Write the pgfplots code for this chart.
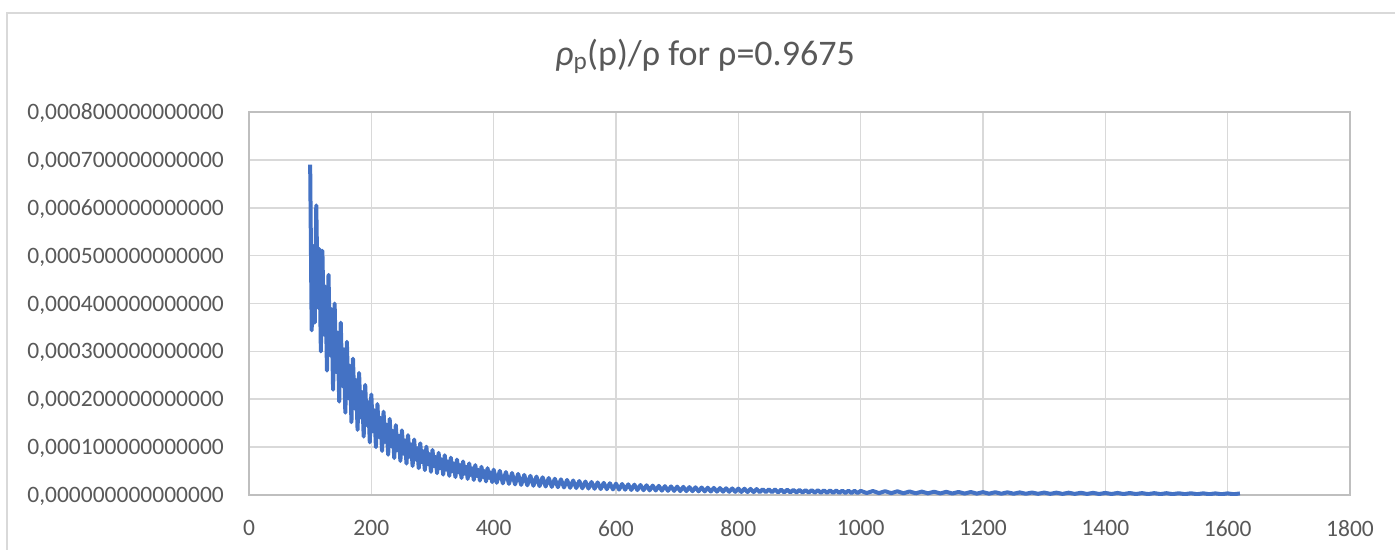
\documentclass[border=0pt]{standalone}
\usepackage{fontspec}
\setmainfont{Carlito}
\usepackage{pgfplots}
\pgfplotsset{compat=1.18}
\definecolor{lineblue}{HTML}{4472C4}
\definecolor{gridgray}{HTML}{D9D9D9}
\definecolor{axisgray}{HTML}{BFBFBF}
\definecolor{textgray}{HTML}{595959}
\begin{document}
\begin{tikzpicture}
% page = 1395 x 549 px, 1px = 1pt, origin at the plot area's lower left
\useasboundingbox (-249pt,-54pt) rectangle (1146pt,495pt);
\fill[white] (-249pt,-54pt) rectangle (1146pt,495pt);
\draw[gridgray, line width=1.2pt] (-242pt,-60pt) -- (-242pt,482pt) -- (1150pt,482pt);
\begin{axis}[
    at={(0pt,0pt)}, anchor=south west,
    scale only axis,
    width=1101pt, height=383pt,
    xmin=0, xmax=1800, ymin=0, ymax=8e-4,
    xtick={0,200,400,600,800,1000,1200,1400,1600,1800},
    xticklabels={0,200,400,600,800,1000,1200,1400,1600,1800},
    ytick={0,1e-4,2e-4,3e-4,4e-4,5e-4,6e-4,7e-4,8e-4},
    yticklabels={{0,000000000000000},{0,000100000000000},{0,000200000000000},
      {0,000300000000000},{0,000400000000000},{0,000500000000000},
      {0,000600000000000},{0,000700000000000},{0,000800000000000}},
    scaled ticks=false,
    major tick length=0pt,
    grid=major,
    major grid style={gridgray, line width=1.6pt},
    axis line style={axisgray, line width=1.5pt},
    ticklabel style={font=\fontsize{23.5}{28}\selectfont, text=textgray, inner sep=0pt},
    yticklabel style={anchor=base east, xshift=-25pt, yshift=-7.5pt},
    xticklabel style={anchor=north, yshift=-25pt},
]
\addplot[lineblue, line width=4pt, line join=round] table {
x y
100 6.9e-4
102.5 3.44e-4
105 5.2e-4
107.5 3.6e-4
110 6.05e-4
112.5 3.92e-4
115 5.14e-4
117.5 3.0e-4
120 5.1e-4
122.5 3.35e-4
125 4.35e-4
127.5 2.6e-4
130 4.6e-4
132.5 2.92e-4
135 3.88e-4
137.5 2.2e-4
140 4.0e-4
142.5 2.57e-4
145 3.39e-4
147.5 1.95e-4
150 3.6e-4
152.5 2.28e-4
155 3.04e-4
157.5 1.72e-4
160 3.2e-4
162.5 2.02e-4
165 2.70e-4
167.5 1.52e-4
170 2.85e-4
172.5 1.81e-4
175 2.40e-4
177.5 1.36e-4
180 2.55e-4
182.5 1.62e-4
185 2.15e-4
187.5 1.22e-4
190 2.3e-4
192.5 1.46e-4
195 1.94e-4
197.5 1.10e-4
200 2.1e-4
202.5 1.33e-4
205 1.77e-4
207.5 1.0e-4
210 1.9e-4
212.5 1.21e-4
215 1.61e-4
217.5 0.92e-4
220 1.74e-4
222.5 1.11e-4
225 1.47e-4
227.5 0.84e-4
230 1.59e-4
232.5 1.02e-4
235 1.34e-4
237.5 0.77e-4
240 1.46e-4
242.5 0.935e-4
245 1.235e-4
247.5 0.71e-4
250 1.35e-4
252.5 0.864e-4
255 1.141e-4
257.5 0.655e-4
260 1.25e-4
262.5 0.799e-4
265 1.056e-4
267.5 0.605e-4
270 1.16e-4
272.5 0.74e-4
275 0.98e-4
277.5 0.56e-4
280 1.08e-4
282.5 0.688e-4
285 0.912e-4
287.5 0.52e-4
290 1.01e-4
292.5 0.643e-4
295 0.852e-4
297.5 0.485e-4
300 0.94e-4
302.5 0.601e-4
305 0.794e-4
307.5 0.455e-4
310 0.88e-4
312.5 0.562e-4
315 0.743e-4
317.5 0.425e-4
320 0.83e-4
322.5 0.529e-4
325 0.701e-4
327.5 0.40e-4
330 0.78e-4
332.5 0.497e-4
335 0.658e-4
337.5 0.375e-4
340 0.74e-4
342.5 0.471e-4
345 0.624e-4
347.5 0.355e-4
350 0.70e-4
352.5 0.445e-4
355 0.59e-4
357.5 0.335e-4
360 0.66e-4
362.5 0.419e-4
365 0.556e-4
367.5 0.315e-4
370 0.625e-4
372.5 0.398e-4
375 0.527e-4
377.5 0.30e-4
380 0.59e-4
382.5 0.375e-4
385 0.498e-4
387.5 0.283e-4
390 0.56e-4
392.5 0.357e-4
395 0.473e-4
397.5 0.27e-4
400 0.53e-4
405 0.255e-4
410 0.505e-4
415 0.243e-4
420 0.48e-4
425 0.232e-4
430 0.46e-4
435 0.221e-4
440 0.44e-4
445 0.211e-4
450 0.42e-4
455 0.202e-4
460 0.40e-4
465 0.193e-4
470 0.385e-4
475 0.185e-4
480 0.37e-4
485 0.177e-4
490 0.355e-4
495 0.17e-4
500 0.34e-4
505 0.163e-4
510 0.327e-4
515 0.157e-4
520 0.315e-4
525 0.151e-4
530 0.303e-4
535 0.145e-4
540 0.292e-4
545 0.14e-4
550 0.282e-4
555 0.135e-4
560 0.272e-4
565 0.13e-4
570 0.263e-4
575 0.125e-4
580 0.254e-4
585 0.121e-4
590 0.246e-4
595 0.117e-4
600 0.238e-4
605 0.113e-4
610 0.230e-4
615 0.110e-4
620 0.223e-4
625 0.106e-4
630 0.216e-4
635 0.103e-4
640 0.209e-4
645 0.100e-4
650 0.203e-4
655 0.097e-4
660 0.197e-4
665 0.094e-4
670 0.191e-4
675 0.091e-4
680 0.185e-4
685 0.088e-4
690 0.180e-4
695 0.086e-4
700 0.175e-4
705 0.083e-4
710 0.170e-4
715 0.081e-4
720 0.165e-4
725 0.079e-4
730 0.161e-4
735 0.077e-4
740 0.156e-4
745 0.075e-4
750 0.152e-4
755 0.073e-4
760 0.148e-4
765 0.071e-4
770 0.145e-4
775 0.069e-4
780 0.141e-4
785 0.067e-4
790 0.137e-4
795 0.066e-4
800 0.134e-4
805 0.064e-4
810 0.131e-4
815 0.062e-4
820 0.127e-4
825 0.061e-4
830 0.124e-4
835 0.059e-4
840 0.121e-4
845 0.058e-4
850 0.119e-4
855 0.057e-4
860 0.116e-4
865 0.055e-4
870 0.113e-4
875 0.054e-4
880 0.111e-4
885 0.053e-4
890 0.108e-4
895 0.052e-4
900 0.106e-4
905 0.051e-4
910 0.103e-4
915 0.049e-4
920 0.101e-4
925 0.048e-4
930 0.099e-4
935 0.047e-4
940 0.097e-4
945 0.046e-4
950 0.095e-4
955 0.045e-4
960 0.093e-4
965 0.044e-4
970 0.091e-4
975 0.044e-4
980 0.089e-4
985 0.043e-4
990 0.087e-4
995 0.042e-4
1000 0.086e-4
1010 0.041e-4
1020 0.083e-4
1030 0.039e-4
1040 0.080e-4
1050 0.038e-4
1060 0.077e-4
1070 0.036e-4
1080 0.074e-4
1090 0.035e-4
1100 0.071e-4
1110 0.034e-4
1120 0.069e-4
1130 0.033e-4
1140 0.066e-4
1150 0.031e-4
1160 0.064e-4
1170 0.030e-4
1180 0.062e-4
1190 0.029e-4
1200 0.060e-4
1210 0.028e-4
1220 0.058e-4
1230 0.027e-4
1240 0.056e-4
1250 0.027e-4
1260 0.054e-4
1270 0.026e-4
1280 0.052e-4
1290 0.025e-4
1300 0.051e-4
1310 0.024e-4
1320 0.049e-4
1330 0.023e-4
1340 0.048e-4
1350 0.023e-4
1360 0.047e-4
1370 0.022e-4
1380 0.045e-4
1390 0.021e-4
1400 0.044e-4
1410 0.021e-4
1420 0.043e-4
1430 0.020e-4
1440 0.042e-4
1450 0.020e-4
1460 0.040e-4
1470 0.019e-4
1480 0.039e-4
1490 0.019e-4
1500 0.038e-4
1510 0.018e-4
1520 0.037e-4
1530 0.018e-4
1540 0.036e-4
1550 0.017e-4
1560 0.035e-4
1570 0.017e-4
1580 0.034e-4
1590 0.016e-4
1600 0.034e-4
1610 0.016e-4
1620 0.033e-4
};
\end{axis}
\node[anchor=base, text=textgray, font=\fontsize{36}{42}\selectfont]
  at (456pt,429pt) {\textit{ρ}\textsubscript{p}(p)/ρ for ρ=0.9675};
\end{tikzpicture}
\end{document}
